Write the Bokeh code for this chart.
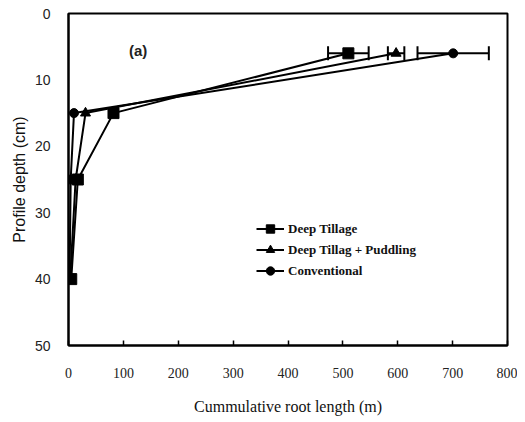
from bokeh.plotting import figure
from bokeh.models import ColumnDataSource, Whisker, Legend, LegendItem, Label, Range1d, FixedTicker, TeeHead
from bokeh.embed import file_html
from bokeh.resources import INLINE

depth = [6, 15, 25, 40]
deep_tillage = [510, 82, 17, 5]
deep_puddling = [597, 31, 13, 3]
conventional = [701, 10, 4, 2]

err_depth = [6, 6, 6]
err_center = [510, 597, 701]
err_half = [37, 15, 65]

x_ticks = [0, 100, 200, 300, 400, 500, 600, 700, 800]
y_ticks = [0, 10, 20, 30, 40, 50]

p = figure(frame_width=439, frame_height=332, output_backend="svg", toolbar_location=None,
           min_border_left=68, min_border_right=10, min_border_top=13, min_border_bottom=69,
           x_range=Range1d(0, 800), y_range=Range1d(50, 0))
p.xgrid.visible = False
p.ygrid.visible = False
p.outline_line_color = "black"
p.outline_line_width = 2
p.background_fill_color = "white"
p.border_fill_color = "white"

p.xaxis.ticker = FixedTicker(ticks=x_ticks)
p.yaxis.ticker = FixedTicker(ticks=y_ticks)
for ax in (p.xaxis[0], p.yaxis[0]):
    ax.axis_line_color = "black"
    ax.axis_line_width = 2
    ax.major_tick_line_color = "black"
    ax.major_tick_line_width = 1.5
    ax.minor_tick_line_color = None
    ax.major_label_text_color = "#222222"
    ax.axis_label_text_color = "#111111"
    ax.axis_label_text_font_style = "normal"

p.xaxis.major_tick_in = 5
p.xaxis.major_tick_out = 0
p.yaxis.major_tick_in = 0
p.yaxis.major_tick_out = 0
p.xaxis.axis_label = "Cummulative root length (m)"
p.xaxis.axis_label_text_font = "Liberation Serif"
p.xaxis.axis_label_text_font_size = "16px"
p.xaxis.major_label_text_font = "Liberation Serif"
p.xaxis.major_label_text_font_size = "14px"
p.xaxis.major_label_standoff = 22
p.xaxis.axis_label_standoff = 17

p.yaxis.axis_label = "Profile depth (cm)"
p.yaxis.axis_label_text_font = "Liberation Sans"
p.yaxis.axis_label_text_font_size = "16px"
p.yaxis.major_label_text_font = "Liberation Sans"
p.yaxis.major_label_text_font_size = "14px"
p.yaxis.major_label_standoff = 18
p.yaxis.axis_label_standoff = 4

src_err = ColumnDataSource(dict(y=err_depth,
                                lower=[c - h for c, h in zip(err_center, err_half)],
                                upper=[c + h for c, h in zip(err_center, err_half)]))
w = Whisker(base="y", lower="lower", upper="upper", dimension="width", source=src_err,
            line_color="black", line_width=2,
            lower_head=TeeHead(size=14, line_color="black", line_width=2),
            upper_head=TeeHead(size=14, line_color="black", line_width=2))
p.add_layout(w)

l1 = p.line(deep_tillage, depth, line_color="black", line_width=2)
m1 = p.scatter(deep_tillage, depth, marker="square", size=11, color="black")
l2 = p.line(deep_puddling, depth, line_color="black", line_width=2)
m2 = p.scatter(deep_puddling, depth, marker="triangle", size=10, color="black")
l3 = p.line(conventional, depth, line_color="black", line_width=2)
m3 = p.scatter(conventional, depth, marker="circle", size=9, color="black")

legend = Legend(items=[
    LegendItem(label="Deep Tillage", renderers=[l1, m1]),
    LegendItem(label="Deep Tillag + Puddling", renderers=[l2, m2]),
    LegendItem(label="Conventional", renderers=[l3, m3]),
], location=(188, 64), orientation="vertical")
legend.border_line_color = None
legend.background_fill_alpha = 0
legend.padding = 0
legend.margin = 0
legend.spacing = 0
legend.glyph_width = 28
legend.glyph_height = 21
legend.label_height = 21
legend.label_standoff = 4
legend.label_text_font = "Liberation Sans Narrow"
legend.label_text_font_style = "bold"
legend.label_text_font_size = "13px"
legend.label_text_color = "#111111"
p.add_layout(legend, "center")

p.add_layout(Label(x=127, y=5.5, text="(a)", text_font="Liberation Sans", text_font_style="bold",
                   text_font_size="15px", text_align="center", text_baseline="middle",
                   text_color="#222222"))

open("out.html", "w").write(file_html(p, INLINE))
